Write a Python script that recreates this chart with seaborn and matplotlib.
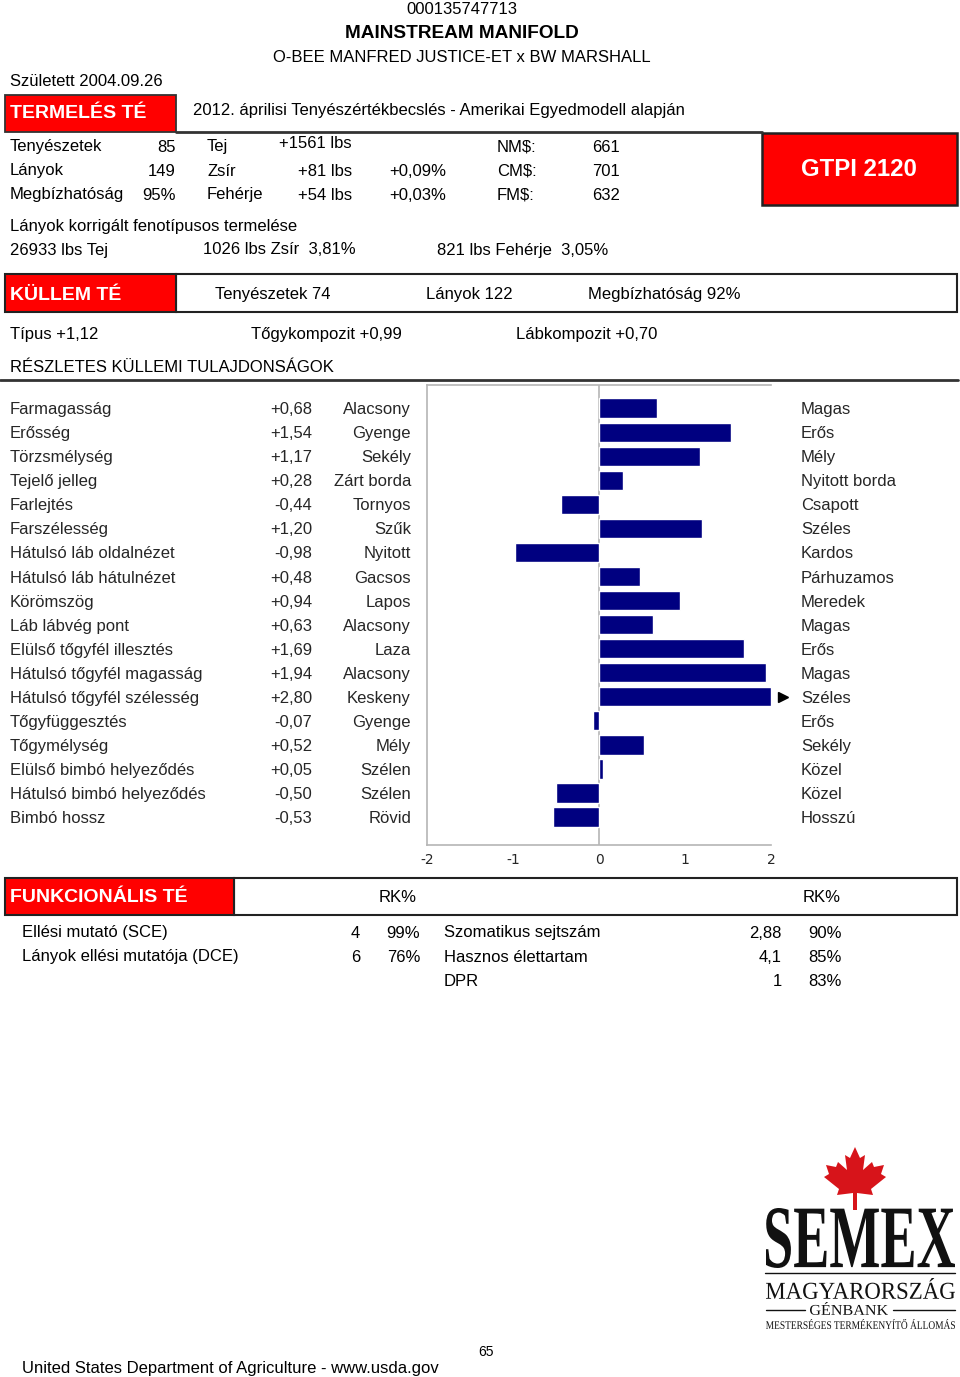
import numpy as np
import pandas as pd
import matplotlib
matplotlib.use("Agg")
import matplotlib.pyplot as plt
import matplotlib.transforms as mtransforms
from matplotlib.patches import Rectangle, PathPatch, Polygon
from matplotlib.textpath import TextPath
from matplotlib.font_manager import FontProperties
import seaborn as sns

# --- adatok ---
bika_id = "000135747713"
bika_nev = "MAINSTREAM MANIFOLD"
szarmazas = "O-BEE MANFRED JUSTICE-ET x BW MARSHALL"
szuletett = "Született 2004.09.26"

termeles_bal = ["Tenyészetek", "Lányok", "Megbízhatóság"]
termeles_bal_ert = ["85", "149", "95%"]
termeles_tul = ["Tej", "Zsír", "Fehérje"]
termeles_lbs = ["+1561 lbs", "+81 lbs", "+54 lbs"]
termeles_pct = ["", "+0,09%", "+0,03%"]
index_nev = ["NM$:", "CM$:", "FM$:"]
index_ert = ["661", "701", "632"]
gtpi = 2120

korrigalt = ["26933 lbs Tej", "1026 lbs Zsír  3,81%", "821 lbs Fehérje  3,05%"]
kullem_fej = ["Tenyészetek 74", "Lányok 122", "Megbízhatóság 92%"]
kompozit = ["Típus +1,12", "Tőgykompozit +0,99", "Lábkompozit +0,70"]

traits = ["Farmagasság", "Erősség", "Törzsmélység", "Tejelő jelleg", "Farlejtés",
          "Farszélesség", "Hátulsó láb oldalnézet", "Hátulsó láb hátulnézet",
          "Körömszög", "Láb lábvég pont", "Elülső tőgyfél illesztés",
          "Hátulsó tőgyfél magasság", "Hátulsó tőgyfél szélesség", "Tőgyfüggesztés",
          "Tőgymélység", "Elülső bimbó helyeződés", "Hátulsó bimbó helyeződés",
          "Bimbó hossz"]
values = [0.68, 1.54, 1.17, 0.28, -0.44, 1.20, -0.98, 0.48, 0.94, 0.63,
          1.69, 1.94, 2.80, -0.07, 0.52, 0.05, -0.50, -0.53]
low_labels = ["Alacsony", "Gyenge", "Sekély", "Zárt borda", "Tornyos", "Szűk",
              "Nyitott", "Gacsos", "Lapos", "Alacsony", "Laza", "Alacsony",
              "Keskeny", "Gyenge", "Mély", "Szélen", "Szélen", "Rövid"]
high_labels = ["Magas", "Erős", "Mély", "Nyitott borda", "Csapott", "Széles",
               "Kardos", "Párhuzamos", "Meredek", "Magas", "Erős", "Magas",
               "Széles", "Erős", "Sekély", "Közel", "Közel", "Hosszú"]
x_ticks = [-2, -1, 0, 1, 2]

funk_bal = ["Ellési mutató (SCE)", "Lányok ellési mutatója (DCE)"]
funk_bal_ert = ["4", "6"]
funk_bal_rk = ["99%", "76%"]
funk_jobb = ["Szomatikus sejtszám", "Hasznos élettartam", "DPR"]
funk_jobb_ert = ["2,88", "4,1", "1"]
funk_jobb_rk = ["90%", "85%", "83%"]

# --- stílus ---
sns.set_theme(style="white")
plt.rcParams["font.family"] = ["Liberation Sans", "DejaVu Sans"]

W, H = 960, 1377
fig = plt.figure(figsize=(W / 100, H / 100), dpi=100)
fig.patch.set_facecolor("white")

# teljes lapos réteg pixel koordinátákkal
bg = fig.add_axes([0, 0, 1, 1])
bg.set_xlim(0, W)
bg.set_ylim(H, 0)
bg.axis("off")

RED = "#ff0000"
FS = 12


def txt(x, y, s, ha="left", size=FS, **kw):
    # +2 px: a 'center' igazítás kicsit feljebb teszi a szöveget
    bg.text(x, y + 2, s, ha=ha, va="center", fontsize=size,
            color=kw.pop("color", "black"), **kw)


def box(x0, y0, x1, y1, fc, ec="#333333", lw=1.3):
    bg.add_patch(Rectangle((x0, y0), x1 - x0, y1 - y0, facecolor=fc, edgecolor=ec, lw=lw))


def path_text(s, x0, y0, x1, y1, family="Liberation Serif", weight="normal"):
    # szöveg pontosan a megadott dobozba skálázva (logóhoz)
    tp = TextPath((0, 0), s, size=100, prop=FontProperties(family=family, weight=weight))
    ext = tp.get_extents()
    sx = (x1 - x0) / ext.width
    sy = (y1 - y0) / ext.height
    tr = mtransforms.Affine2D().translate(-ext.x0, -ext.y1).scale(sx, -sy).translate(x0, y0)
    bg.add_patch(PathPatch(tr.transform_path(tp), facecolor="#111111", edgecolor="none"))


# --- fejléc ---
txt(462, 8, bika_id, ha="center")
txt(462, 32, bika_nev, ha="center", size=13.7, fontweight="bold")
txt(462, 55, szarmazas, ha="center")
txt(10, 79, szuletett)

# termelés
box(5, 95, 176, 132, RED)
txt(10, 112, "TERMELÉS TÉ", size=14, fontweight="bold", color="white")
txt(193, 108, "2012. áprilisi Tenyészértékbecslés - Amerikai Egyedmodell alapján")
bg.plot([176, 762], [132, 132], color="#333333", lw=2)

box(762, 133, 957, 205, RED, ec="#222222", lw=1.8)
txt(859, 168, f"GTPI {gtpi}", ha="center", size=17.3, fontweight="bold", color="white")

rows_y = [145, 169, 193]
for i, y in enumerate(rows_y):
    txt(10, y, termeles_bal[i])
    txt(176, y, termeles_bal_ert[i], ha="right")
    txt(207, y, termeles_tul[i])
    txt(352, y - (3 if i == 0 else 0), termeles_lbs[i], ha="right")
    txt(446, y, termeles_pct[i], ha="right")
    txt(497, y, index_nev[i])
    txt(620, y, index_ert[i], ha="right")

txt(10, 224, "Lányok korrigált fenotípusos termelése")
for x, s in zip([10, 203, 437], korrigalt):
    txt(x, 248, s)

# küllem
box(176, 274, 957, 312, "white", ec="#222222", lw=1.5)
box(5, 274, 176, 312, RED, ec="#222222", lw=1.5)
txt(10, 293, "KÜLLEM TÉ", size=14, fontweight="bold", color="white")
for x, s in zip([215, 426, 588], kullem_fej):
    txt(x, 293, s)
for x, s in zip([10, 251, 516], kompozit):
    txt(x, 333, s)
txt(10, 365, "RÉSZLETES KÜLLEMI TULAJDONSÁGOK")
bg.plot([0, 958], [380, 380], color="#333333", lw=2)

# --- részletes küllemi diagram ---
ax_l, ax_r, ax_t, ax_b = 427, 771, 385, 845
ax = fig.add_axes([ax_l / W, 1 - ax_b / H, (ax_r - ax_l) / W, (ax_b - ax_t) / H])
df = pd.DataFrame({"trait": traits, "value": values})
df["plot_value"] = df["value"].clip(-2, 2)
sns.barplot(data=df, x="plot_value", y="trait", orient="h", color="#000080",
            saturation=1, width=0.8, ax=ax, order=traits)
ax.set_xlim(-2, 2)
ax.set_ylim(len(traits) - 1 + 1.16, -0.96)
ax.axvline(0, color="#b5b5b5", lw=1.2, zorder=0)
ax.set_xticks(x_ticks)
ax.set_xticklabels([str(t) for t in x_ticks], fontsize=10, family="DejaVu Sans")
ax.set_yticks([])
ax.set_xlabel("")
ax.set_ylabel("")
for side in ["left", "top", "bottom"]:
    ax.spines[side].set_color("#b5b5b5")
    ax.spines[side].set_linewidth(1.2)
ax.spines["right"].set_visible(False)
ax.tick_params(axis="x", length=4, color="#b5b5b5", pad=2)
ax.patch.set_alpha(0)
# túllógó érték jele
for i, v in enumerate(values):
    if v > 2:
        ax.plot(2.14, i, marker=">", color="black", markersize=7, clip_on=False)

row_tr = mtransforms.blended_transform_factory(bg.transData, ax.transData) + \
    mtransforms.ScaledTranslation(0, -1.5 / 100, fig.dpi_scale_trans)
for i, name in enumerate(traits):
    v = values[i]
    bg.text(10, i, name, transform=row_tr, va="center", fontsize=FS)
    bg.text(312, i, f"{v:+.2f}".replace(".", ","), transform=row_tr, va="center",
            ha="right", fontsize=FS)
    bg.text(411, i, low_labels[i], transform=row_tr, va="center", ha="right", fontsize=FS)
    bg.text(801, i, high_labels[i], transform=row_tr, va="center", fontsize=FS)

# --- funkcionális ---
box(234, 878, 957, 915, "white", ec="#222222", lw=1.5)
box(5, 878, 234, 915, RED, ec="#222222", lw=1.5)
txt(10, 896, "FUNKCIONÁLIS TÉ", size=14, fontweight="bold", color="white")
txt(398, 896, "RK%", ha="center")
txt(822, 896, "RK%", ha="center")
f_rows = [931, 955, 979]
for i, y in enumerate(f_rows):
    if i < len(funk_bal):
        txt(22, y, funk_bal[i])
        txt(360, y, funk_bal_ert[i], ha="right")
        txt(420, y, funk_bal_rk[i], ha="right")
    txt(444, y, funk_jobb[i])
    txt(782, y, funk_jobb_ert[i], ha="right")
    txt(842, y, funk_jobb_rk[i], ha="right")

# --- logó ---
leaf = np.array([
    [0, -33], [5, -22], [10, -25], [8, -10], [17, -18], [19, -13], [29, -15],
    [26, -6], [31, -3], [16, 9], [18, 15], [2, 13], [2, 30], [-2, 30], [-2, 13],
    [-18, 15], [-16, 9], [-31, -3], [-26, -6], [-29, -15], [-19, -13], [-17, -18],
    [-8, -10], [-10, -25], [-5, -22]])
bg.add_patch(Polygon(leaf + [855, 1180], closed=True, facecolor="#d7141a", edgecolor="none"))
path_text("SEMEX", 766, 1208, 955, 1268, weight="bold")
bg.plot([765, 955], [1273, 1273], color="#111111", lw=1)
path_text("MAGYARORSZÁG", 766, 1278, 955, 1299)
path_text("GÉNBANK", 810, 1302, 888, 1315)
bg.plot([766, 805], [1310, 1310], color="#111111", lw=1)
bg.plot([893, 955], [1310, 1310], color="#111111", lw=1)
path_text("MESTERSÉGES TERMÉKENYÍTŐ ÁLLOMÁS", 766, 1319, 955, 1329)

# --- lábléc ---
txt(486, 1350, "65", ha="center", size=10)
txt(22, 1366, "United States Department of Agriculture - www.usda.gov")

fig.savefig("out.png", dpi=100, facecolor="white")
